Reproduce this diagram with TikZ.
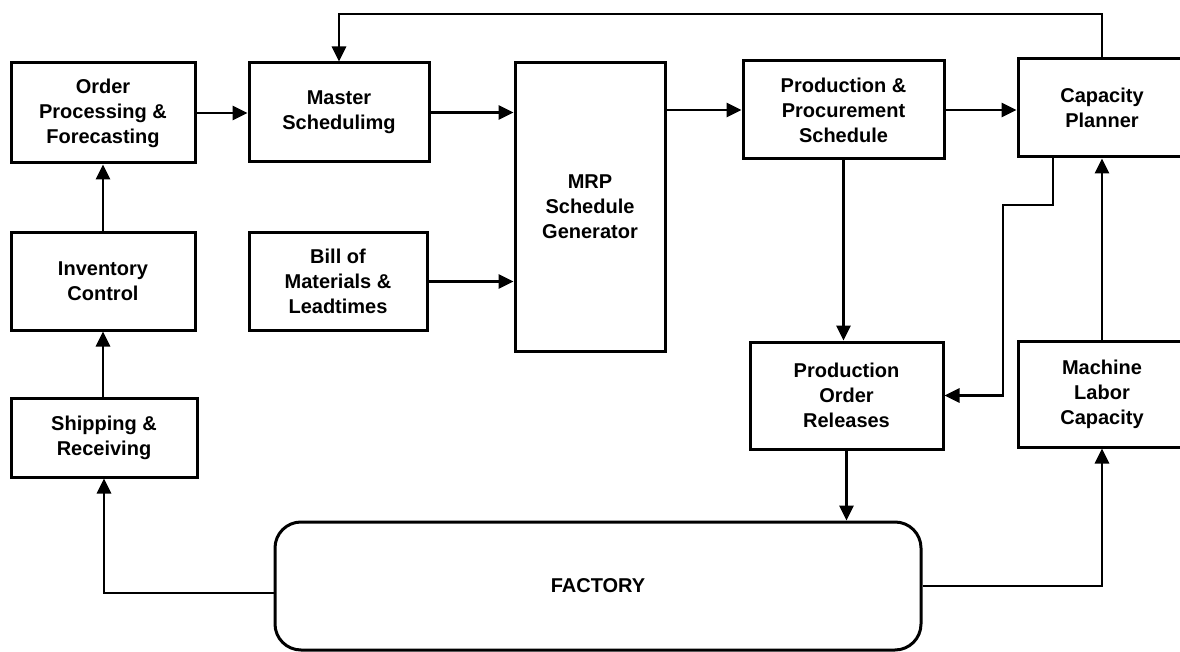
\documentclass[tikz,border=0pt]{standalone}
\usepackage{fontspec}
\setmainfont{Liberation Sans}
\usetikzlibrary{arrows.meta,calc}
\begin{document}
\begin{tikzpicture}[x=1pt,y=-1pt,
  box/.style={draw,line width=3pt,align=center,inner sep=0pt,
    font=\fontsize{20}{25}\selectfont\bfseries},
  conn/.style={line width=2.8pt,-{Triangle[length=15pt,width=14pt]}}]
\useasboundingbox (0,0) rectangle (1180,652);
\clip (0,0) rectangle (1180,652);
\node[box,minimum width=184,minimum height=100] (order) at (103,113) {Order\\Processing \&\\Forecasting};
\node[box,minimum width=180,minimum height=99] (master) at (339,112.5) {Master\\Schedulimg};
\node[box,minimum width=150,minimum height=288] (mrp) at (590,207) {MRP\\Schedule\\Generator};
\node[box,minimum width=201,minimum height=98] (pp) at (843.5,110) {Production \&\\Procurement\\Schedule};
\node[box,minimum width=168,minimum height=98] (cap) at (1102,108) {Capacity\\Planner};
\node[box,minimum width=184,minimum height=97] (inv) at (103,281.5) {Inventory\\Control};
\node[box,minimum width=178,minimum height=97] (bill) at (338,281.5) {Bill of\\Materials \&\\Leadtimes};
\node[box,minimum width=186,minimum height=79] (ship) at (104,437.5) {Shipping \&\\Receiving};
\node[box,minimum width=193,minimum height=107] (por) at (846.5,395.5) {Production\\Order\\Releases};
\node[box,minimum width=168,minimum height=106] (mach) at (1102,394) {Machine\\Labor\\Capacity};
\node[box,rounded corners=26pt,minimum width=646,minimum height=128] (factory) at (598,586) {FACTORY};
\coordinate (topy) at (0,14);
\coordinate (c1) at (1003,205);
% connectors
\draw[conn] (order.east) -- (order.east -| master.west);
\draw[conn] (master.east) -- (master.east -| mrp.west);
\draw[conn] (bill.east) -- (bill.east -| mrp.west);
\draw[conn] (mrp.east |- pp.west) -- (pp.west);
\draw[conn] (pp.east) -- (pp.east -| cap.west);
\draw[conn] (cap.north) -- (cap.north |- topy) -| (master.north);
\draw[conn] (inv.north) -- (order.south);
\draw[conn] (inv.south |- ship.north) -- (inv.south);
\draw[conn] ([yshift=-7pt]factory.west) -| (ship.south);
\draw[conn] (pp.south) -- (pp.south |- por.north);
\draw[conn] (por.south) -- (por.south |- factory.north);
\draw[conn] (factory.east) -| (mach.south);
\draw[conn] (mach.north) -- (cap.south);
\draw[conn] ([xshift=-49pt]cap.south) |- (c1) |- (por.east);
\end{tikzpicture}
\end{document}
